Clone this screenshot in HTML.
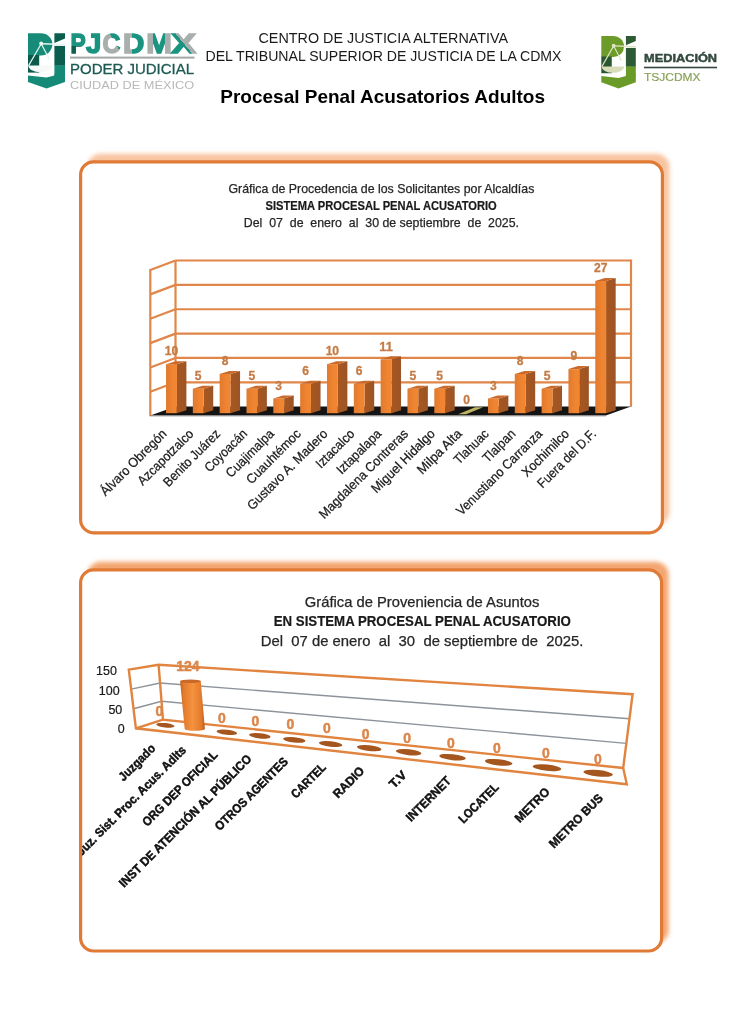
<!DOCTYPE html>
<html lang="es"><head><meta charset="utf-8"><title>Procesal Penal Acusatorios Adultos</title>
<style>
html,body{margin:0;padding:0;background:#fff;}
body{width:754px;height:1024px;overflow:hidden;}
svg{display:block;font-family:'Liberation Sans', Arial, sans-serif;}
</style></head><body>
<svg width="754" height="1024" viewBox="0 0 754 1024">
<defs>
<filter id="blur" x="-5%" y="-5%" width="110%" height="110%"><feGaussianBlur stdDeviation="2.2"/></filter>
<clipPath id="clip2"><rect x="82" y="572" width="578" height="377"/></clipPath>
</defs>
<g transform="">
<path d="M28 33.3 H41 A11.4 11.05 0 0 1 41 55.4 H28 Z" fill="#178b78"/>
<path d="M28 55 H39.2 V72.6 H28 Z" fill="#0b5a4a"/>
<path d="M54.4 33.3 H65 V38.6 L54.4 43 Z" fill="#0b5d4e"/>
<path d="M54.4 45.9 H65 V65.8 H54.4 Z" fill="#0b5d4e"/>
<path d="M54.4 65.6 H65 V76 H54.4 Z" fill="#148a77"/>
<path d="M28 75.4 L46.5 77.6 L54.4 75.6 L54.4 74 H65 V82 L46.5 88.6 L28 82 Z" fill="#148a77"/>
<path d="M28.3 65.4 H52.6 A12.15 6.8 0 0 1 28.3 65.4 Z" fill="#f6f9f8"/>
<path d="M41.2 43.7 L65 44.6" stroke="#e6f5f1" stroke-width="1.5" fill="none"/>
<path d="M41.2 43.7 L28.6 65.6 M41.2 43.7 L49.5 59.5" stroke="#e6f5f1" stroke-width="1.2" fill="none"/>
<circle cx="41.2" cy="43.6" r="2" fill="#e6f5f1"/>
</g>
<defs>
<linearGradient id="gP" x1="0" y1="0" x2="0" y2="1"><stop offset="0.58" stop-color="#1a9480"/><stop offset="0.58" stop-color="#0d5e4f"/></linearGradient>
<linearGradient id="gC" x1="0" y1="1" x2="1" y2="0"><stop offset="0.62" stop-color="#a9afad"/><stop offset="0.62" stop-color="#1a9480"/></linearGradient>
<linearGradient id="gD" x1="0" y1="0" x2="1" y2="0"><stop offset="0.42" stop-color="#a9afad"/><stop offset="0.42" stop-color="#1a9480"/></linearGradient>
<linearGradient id="gM" x1="0" y1="0" x2="1" y2="0"><stop offset="0.26" stop-color="#a9afad"/><stop offset="0.26" stop-color="#1a9480"/><stop offset="0.74" stop-color="#1a9480"/><stop offset="0.74" stop-color="#a9afad"/></linearGradient>
<linearGradient id="gX" x1="0" y1="1" x2="1" y2="0"><stop offset="0.5" stop-color="#1a9480"/><stop offset="0.5" stop-color="#a9afad"/></linearGradient>
</defs>
<text x="70.50" y="53.4" font-size="27.6" font-weight="bold" fill="url(#gP)" stroke="url(#gP)" stroke-width="1.5" textLength="15.20" lengthAdjust="spacingAndGlyphs">P</text>
<text x="86.00" y="53.4" font-size="27.6" font-weight="bold" fill="#1a9480" stroke="#1a9480" stroke-width="1.5" textLength="15.30" lengthAdjust="spacingAndGlyphs">J</text>
<text x="102.40" y="53.4" font-size="27.6" font-weight="bold" fill="url(#gC)" stroke="url(#gC)" stroke-width="1.5" textLength="17.80" lengthAdjust="spacingAndGlyphs">C</text>
<text x="123.10" y="53.4" font-size="27.6" font-weight="bold" fill="url(#gD)" stroke="url(#gD)" stroke-width="1.5" textLength="21.30" lengthAdjust="spacingAndGlyphs">D</text>
<text x="146.30" y="53.4" font-size="27.6" font-weight="bold" fill="url(#gM)" stroke="url(#gM)" stroke-width="1.5" textLength="25.60" lengthAdjust="spacingAndGlyphs">M</text>
<text x="171.30" y="53.4" font-size="27.6" font-weight="bold" fill="url(#gX)" stroke="url(#gX)" stroke-width="1.5" textLength="24.80" lengthAdjust="spacingAndGlyphs">X</text>
<rect x="70" y="56.6" width="124.5" height="2" fill="#a3a8a7"/>
<text x="70.00" y="74.30" font-size="14.7" fill="#1d5a53" font-weight="normal" text-anchor="start" textLength="124.00" lengthAdjust="spacingAndGlyphs" stroke="#1d5a53" stroke-width="0.3">PODER JUDICIAL</text>
<text x="70.00" y="89.00" font-size="11.6" fill="#b8b8b8" font-weight="normal" text-anchor="start" textLength="124.30" lengthAdjust="spacingAndGlyphs" >CIUDAD DE MÉXICO</text>
<text x="258.50" y="42.60" font-size="14.5" fill="#1a1a1a" font-weight="normal" text-anchor="start" textLength="249.60" lengthAdjust="spacingAndGlyphs" >CENTRO DE JUSTICIA ALTERNATIVA</text>
<text x="205.50" y="60.80" font-size="14.5" fill="#1a1a1a" font-weight="normal" text-anchor="start" textLength="356.00" lengthAdjust="spacingAndGlyphs" >DEL TRIBUNAL SUPERIOR DE JUSTICIA DE LA CDMX</text>
<text x="220.30" y="103.10" font-size="18.4" fill="#000" font-weight="bold" text-anchor="start" textLength="324.70" lengthAdjust="spacingAndGlyphs" >Procesal Penal Acusatorios Adultos</text>
<g transform="translate(601.3,36) scale(0.9324,0.9476) translate(-28,-33.3)">
<path d="M28 33.3 H41 A11.4 11.05 0 0 1 41 55.4 H28 Z" fill="#6c9b29"/>
<path d="M28 55 H39.2 V72.6 H28 Z" fill="#2a5632"/>
<path d="M54.4 33.3 H65 V38.6 L54.4 43 Z" fill="#2c5a34"/>
<path d="M54.4 45.9 H65 V65.8 H54.4 Z" fill="#2c5a34"/>
<path d="M54.4 65.6 H65 V76 H54.4 Z" fill="#6a9a27"/>
<path d="M28 75.4 L46.5 77.6 L54.4 75.6 L54.4 74 H65 V82 L46.5 88.6 L28 82 Z" fill="#6a9a27"/>
<path d="M28.3 65.4 H52.6 A12.15 6.8 0 0 1 28.3 65.4 Z" fill="#d9ddb9"/>
<path d="M41.2 43.7 L65 44.6" stroke="#dfe5c2" stroke-width="1.5" fill="none"/>
<path d="M41.2 43.7 L28.6 65.6 M41.2 43.7 L49.5 59.5" stroke="#dfe5c2" stroke-width="1.2" fill="none"/>
<circle cx="41.2" cy="43.6" r="2" fill="#dfe5c2"/>
</g>
<text x="644.00" y="62.30" font-size="10.8" fill="#33493f" font-weight="bold" text-anchor="start" textLength="73.10" lengthAdjust="spacingAndGlyphs" stroke="#33493f" stroke-width="0.45">MEDIACIÓN</text>
<rect x="644" y="66.7" width="73" height="1.6" fill="#34463f"/>
<text x="644.00" y="80.80" font-size="10.8" fill="#8ca25a" font-weight="normal" text-anchor="start" textLength="56.60" lengthAdjust="spacingAndGlyphs" stroke="#8ca25a" stroke-width="0.2">TSJCDMX</text>
<rect x="87.6" y="153.8" width="581.8" height="370.99999999999994" rx="13" fill="#f8c4a0" filter="url(#blur)"/>
<rect x="80.6" y="161.8" width="581.8" height="370.99999999999994" rx="13" fill="#fff" stroke="#e07b37" stroke-width="3.2"/>
<rect x="87.6" y="561.8" width="581.0" height="381.20000000000005" rx="13" fill="#f4a670" filter="url(#blur)"/>
<rect x="80.6" y="569.8" width="581.0" height="381.20000000000005" rx="13" fill="#fff" stroke="#e07b37" stroke-width="3.2"/>
<defs><linearGradient id="bfront" x1="0" x2="1" y1="0" y2="0"><stop offset="0" stop-color="#e07a2f"/><stop offset="0.6" stop-color="#ef8431"/><stop offset="1" stop-color="#f08632"/></linearGradient><linearGradient id="bside" x1="0" x2="1" y1="0" y2="0"><stop offset="0" stop-color="#a9561e"/><stop offset="1" stop-color="#9b5527"/></linearGradient></defs>
<text x="228.50" y="193.20" font-size="12.4" fill="#262626" font-weight="normal" text-anchor="start" textLength="305.80" lengthAdjust="spacingAndGlyphs" stroke="#262626" stroke-width="0.25">Gráfica de Procedencia de los Solicitantes por Alcaldías</text>
<text x="265.60" y="210.20" font-size="12.4" fill="#1a1a1a" font-weight="bold" text-anchor="start" textLength="231.20" lengthAdjust="spacingAndGlyphs" stroke="#1a1a1a" stroke-width="0.2">SISTEMA PROCESAL PENAL ACUSATORIO</text>
<text x="243.80" y="227.20" font-size="12.4" fill="#262626" font-weight="normal" text-anchor="start" textLength="275.20" lengthAdjust="spacingAndGlyphs" xml:space="preserve" stroke="#262626" stroke-width="0.25">Del  07  de  enero  al  30 de septiembre  de  2025.</text>
<line x1="175.5" y1="260.50" x2="631.0" y2="260.50" stroke="#e0864a" stroke-width="2.2"/>
<line x1="150.3" y1="270.00" x2="175.5" y2="260.50" stroke="#e0864a" stroke-width="2.2"/>
<line x1="175.5" y1="284.87" x2="631.0" y2="284.87" stroke="#e0864a" stroke-width="2.2"/>
<line x1="150.3" y1="294.37" x2="175.5" y2="284.87" stroke="#e0864a" stroke-width="2.2"/>
<line x1="175.5" y1="309.23" x2="631.0" y2="309.23" stroke="#e0864a" stroke-width="2.2"/>
<line x1="150.3" y1="318.73" x2="175.5" y2="309.23" stroke="#e0864a" stroke-width="2.2"/>
<line x1="175.5" y1="333.60" x2="631.0" y2="333.60" stroke="#e0864a" stroke-width="2.2"/>
<line x1="150.3" y1="343.10" x2="175.5" y2="333.60" stroke="#e0864a" stroke-width="2.2"/>
<line x1="175.5" y1="357.97" x2="631.0" y2="357.97" stroke="#e0864a" stroke-width="2.2"/>
<line x1="150.3" y1="367.47" x2="175.5" y2="357.97" stroke="#e0864a" stroke-width="2.2"/>
<line x1="175.5" y1="382.33" x2="631.0" y2="382.33" stroke="#e0864a" stroke-width="2.2"/>
<line x1="150.3" y1="391.83" x2="175.5" y2="382.33" stroke="#e0864a" stroke-width="2.2"/>
<line x1="175.5" y1="260.5" x2="175.5" y2="406.7" stroke="#e0864a" stroke-width="2.2"/>
<line x1="631.0" y1="259.5" x2="631.0" y2="406.7" stroke="#e0864a" stroke-width="2.2"/>
<line x1="150.3" y1="269.0" x2="150.3" y2="416.2" stroke="#e0864a" stroke-width="2.2"/>
<polygon points="175.5,406.4 631.0,406.4 605.8,415.4 150.3,415.4" fill="#141414"/>
<line x1="150.3" y1="416.4" x2="605.8" y2="416.4" stroke="#c8c8c8" stroke-width="0.8"/>
<polygon points="176.80,364.20 186.40,361.20 186.40,410.20 176.80,413.20" fill="url(#bside)"/>
<rect x="166.00" y="364.20" width="10.8" height="49.00" fill="url(#bfront)"/>
<polygon points="166.00,364.20 175.60,361.20 186.40,361.20 176.80,364.20" fill="#c96a2b"/>
<text x="171.40" y="355.40" font-size="12.4" fill="#c47c46" font-weight="bold" text-anchor="middle" textLength="13.49" lengthAdjust="spacingAndGlyphs" stroke="#c47c46" stroke-width="0.3">10</text>
<text transform="translate(167.50,434.60) rotate(-45)" font-size="13.2" fill="#1a1a1a" stroke="#1a1a1a" stroke-width="0.25" text-anchor="end" textLength="87.65" lengthAdjust="spacingAndGlyphs">Álvaro Obregón</text>
<polygon points="203.63,388.70 213.23,385.70 213.23,410.20 203.63,413.20" fill="url(#bside)"/>
<rect x="192.83" y="388.70" width="10.8" height="24.50" fill="url(#bfront)"/>
<polygon points="192.83,388.70 202.43,385.70 213.23,385.70 203.63,388.70" fill="#c96a2b"/>
<text x="198.23" y="379.90" font-size="12.4" fill="#c47c46" font-weight="bold" text-anchor="middle" textLength="6.74" lengthAdjust="spacingAndGlyphs" stroke="#c47c46" stroke-width="0.3">5</text>
<text transform="translate(194.33,434.60) rotate(-45)" font-size="13.2" fill="#1a1a1a" stroke="#1a1a1a" stroke-width="0.25" text-anchor="end" textLength="72.83" lengthAdjust="spacingAndGlyphs">Azcapotzalco</text>
<polygon points="230.46,374.00 240.06,371.00 240.06,410.20 230.46,413.20" fill="url(#bside)"/>
<rect x="219.66" y="374.00" width="10.8" height="39.20" fill="url(#bfront)"/>
<polygon points="219.66,374.00 229.26,371.00 240.06,371.00 230.46,374.00" fill="#c96a2b"/>
<text x="225.06" y="365.20" font-size="12.4" fill="#c47c46" font-weight="bold" text-anchor="middle" textLength="6.74" lengthAdjust="spacingAndGlyphs" stroke="#c47c46" stroke-width="0.3">8</text>
<text transform="translate(221.16,434.60) rotate(-45)" font-size="13.2" fill="#1a1a1a" stroke="#1a1a1a" stroke-width="0.25" text-anchor="end" textLength="74.65" lengthAdjust="spacingAndGlyphs">Benito Juárez</text>
<polygon points="257.29,388.70 266.89,385.70 266.89,410.20 257.29,413.20" fill="url(#bside)"/>
<rect x="246.49" y="388.70" width="10.8" height="24.50" fill="url(#bfront)"/>
<polygon points="246.49,388.70 256.09,385.70 266.89,385.70 257.29,388.70" fill="#c96a2b"/>
<text x="251.89" y="379.90" font-size="12.4" fill="#c47c46" font-weight="bold" text-anchor="middle" textLength="6.74" lengthAdjust="spacingAndGlyphs" stroke="#c47c46" stroke-width="0.3">5</text>
<text transform="translate(247.99,434.60) rotate(-45)" font-size="13.2" fill="#1a1a1a" stroke="#1a1a1a" stroke-width="0.25" text-anchor="end" textLength="54.06" lengthAdjust="spacingAndGlyphs">Coyoacán</text>
<polygon points="284.12,398.50 293.72,395.50 293.72,410.20 284.12,413.20" fill="url(#bside)"/>
<rect x="273.32" y="398.50" width="10.8" height="14.70" fill="url(#bfront)"/>
<polygon points="273.32,398.50 282.92,395.50 293.72,395.50 284.12,398.50" fill="#c96a2b"/>
<text x="278.72" y="389.70" font-size="12.4" fill="#c47c46" font-weight="bold" text-anchor="middle" textLength="6.74" lengthAdjust="spacingAndGlyphs" stroke="#c47c46" stroke-width="0.3">3</text>
<text transform="translate(274.82,434.60) rotate(-45)" font-size="13.2" fill="#1a1a1a" stroke="#1a1a1a" stroke-width="0.25" text-anchor="end" textLength="61.87" lengthAdjust="spacingAndGlyphs">Cuajimalpa</text>
<polygon points="310.95,383.80 320.55,380.80 320.55,410.20 310.95,413.20" fill="url(#bside)"/>
<rect x="300.15" y="383.80" width="10.8" height="29.40" fill="url(#bfront)"/>
<polygon points="300.15,383.80 309.75,380.80 320.55,380.80 310.95,383.80" fill="#c96a2b"/>
<text x="305.55" y="375.00" font-size="12.4" fill="#c47c46" font-weight="bold" text-anchor="middle" textLength="6.74" lengthAdjust="spacingAndGlyphs" stroke="#c47c46" stroke-width="0.3">6</text>
<text transform="translate(301.65,434.60) rotate(-45)" font-size="13.2" fill="#1a1a1a" stroke="#1a1a1a" stroke-width="0.25" text-anchor="end" textLength="70.82" lengthAdjust="spacingAndGlyphs">Cuauhtémoc</text>
<polygon points="337.78,364.20 347.38,361.20 347.38,410.20 337.78,413.20" fill="url(#bside)"/>
<rect x="326.98" y="364.20" width="10.8" height="49.00" fill="url(#bfront)"/>
<polygon points="326.98,364.20 336.58,361.20 347.38,361.20 337.78,364.20" fill="#c96a2b"/>
<text x="332.38" y="355.40" font-size="12.4" fill="#c47c46" font-weight="bold" text-anchor="middle" textLength="13.49" lengthAdjust="spacingAndGlyphs" stroke="#c47c46" stroke-width="0.3">10</text>
<text transform="translate(328.48,434.60) rotate(-45)" font-size="13.2" fill="#1a1a1a" stroke="#1a1a1a" stroke-width="0.25" text-anchor="end" textLength="107.63" lengthAdjust="spacingAndGlyphs">Gustavo A. Madero</text>
<polygon points="364.61,383.80 374.21,380.80 374.21,410.20 364.61,413.20" fill="url(#bside)"/>
<rect x="353.81" y="383.80" width="10.8" height="29.40" fill="url(#bfront)"/>
<polygon points="353.81,383.80 363.41,380.80 374.21,380.80 364.61,383.80" fill="#c96a2b"/>
<text x="359.21" y="375.00" font-size="12.4" fill="#c47c46" font-weight="bold" text-anchor="middle" textLength="6.74" lengthAdjust="spacingAndGlyphs" stroke="#c47c46" stroke-width="0.3">6</text>
<text transform="translate(355.31,434.60) rotate(-45)" font-size="13.2" fill="#1a1a1a" stroke="#1a1a1a" stroke-width="0.25" text-anchor="end" textLength="48.53" lengthAdjust="spacingAndGlyphs">Iztacalco</text>
<polygon points="391.44,359.30 401.04,356.30 401.04,410.20 391.44,413.20" fill="url(#bside)"/>
<rect x="380.64" y="359.30" width="10.8" height="53.90" fill="url(#bfront)"/>
<polygon points="380.64,359.30 390.24,356.30 401.04,356.30 391.44,359.30" fill="#c96a2b"/>
<text x="386.04" y="350.50" font-size="12.4" fill="#c47c46" font-weight="bold" text-anchor="middle" textLength="13.49" lengthAdjust="spacingAndGlyphs" stroke="#c47c46" stroke-width="0.3">11</text>
<text transform="translate(382.14,434.60) rotate(-45)" font-size="13.2" fill="#1a1a1a" stroke="#1a1a1a" stroke-width="0.25" text-anchor="end" textLength="57.22" lengthAdjust="spacingAndGlyphs">Iztapalapa</text>
<polygon points="418.27,388.70 427.87,385.70 427.87,410.20 418.27,413.20" fill="url(#bside)"/>
<rect x="407.47" y="388.70" width="10.8" height="24.50" fill="url(#bfront)"/>
<polygon points="407.47,388.70 417.07,385.70 427.87,385.70 418.27,388.70" fill="#c96a2b"/>
<text x="412.87" y="379.90" font-size="12.4" fill="#c47c46" font-weight="bold" text-anchor="middle" textLength="6.74" lengthAdjust="spacingAndGlyphs" stroke="#c47c46" stroke-width="0.3">5</text>
<text transform="translate(408.97,434.60) rotate(-45)" font-size="13.2" fill="#1a1a1a" stroke="#1a1a1a" stroke-width="0.25" text-anchor="end" textLength="119.90" lengthAdjust="spacingAndGlyphs">Magdalena Contreras</text>
<polygon points="445.10,388.70 454.70,385.70 454.70,410.20 445.10,413.20" fill="url(#bside)"/>
<rect x="434.30" y="388.70" width="10.8" height="24.50" fill="url(#bfront)"/>
<polygon points="434.30,388.70 443.90,385.70 454.70,385.70 445.10,388.70" fill="#c96a2b"/>
<text x="439.70" y="379.90" font-size="12.4" fill="#c47c46" font-weight="bold" text-anchor="middle" textLength="6.74" lengthAdjust="spacingAndGlyphs" stroke="#c47c46" stroke-width="0.3">5</text>
<text transform="translate(435.80,434.60) rotate(-45)" font-size="13.2" fill="#1a1a1a" stroke="#1a1a1a" stroke-width="0.25" text-anchor="end" textLength="83.79" lengthAdjust="spacingAndGlyphs">Miguel Hidalgo</text>
<polygon points="458.13,414.30 466.13,414.30 483.13,407.30 475.13,407.30" fill="#bdb662"/>
<text x="466.53" y="404.40" font-size="12.4" fill="#c47c46" font-weight="bold" text-anchor="middle" textLength="6.74" lengthAdjust="spacingAndGlyphs" stroke="#c47c46" stroke-width="0.3">0</text>
<text transform="translate(462.63,434.60) rotate(-45)" font-size="13.2" fill="#1a1a1a" stroke="#1a1a1a" stroke-width="0.25" text-anchor="end" textLength="57.06" lengthAdjust="spacingAndGlyphs">Milpa Alta</text>
<polygon points="498.76,398.50 508.36,395.50 508.36,410.20 498.76,413.20" fill="url(#bside)"/>
<rect x="487.96" y="398.50" width="10.8" height="14.70" fill="url(#bfront)"/>
<polygon points="487.96,398.50 497.56,395.50 508.36,395.50 498.76,398.50" fill="#c96a2b"/>
<text x="493.36" y="389.70" font-size="12.4" fill="#c47c46" font-weight="bold" text-anchor="middle" textLength="6.74" lengthAdjust="spacingAndGlyphs" stroke="#c47c46" stroke-width="0.3">3</text>
<text transform="translate(489.46,434.60) rotate(-45)" font-size="13.2" fill="#1a1a1a" stroke="#1a1a1a" stroke-width="0.25" text-anchor="end" textLength="43.11" lengthAdjust="spacingAndGlyphs">Tlahuac</text>
<polygon points="525.59,374.00 535.19,371.00 535.19,410.20 525.59,413.20" fill="url(#bside)"/>
<rect x="514.79" y="374.00" width="10.8" height="39.20" fill="url(#bfront)"/>
<polygon points="514.79,374.00 524.39,371.00 535.19,371.00 525.59,374.00" fill="#c96a2b"/>
<text x="520.19" y="365.20" font-size="12.4" fill="#c47c46" font-weight="bold" text-anchor="middle" textLength="6.74" lengthAdjust="spacingAndGlyphs" stroke="#c47c46" stroke-width="0.3">8</text>
<text transform="translate(516.29,434.60) rotate(-45)" font-size="13.2" fill="#1a1a1a" stroke="#1a1a1a" stroke-width="0.25" text-anchor="end" textLength="40.46" lengthAdjust="spacingAndGlyphs">Tlalpan</text>
<polygon points="552.42,388.70 562.02,385.70 562.02,410.20 552.42,413.20" fill="url(#bside)"/>
<rect x="541.62" y="388.70" width="10.8" height="24.50" fill="url(#bfront)"/>
<polygon points="541.62,388.70 551.22,385.70 562.02,385.70 552.42,388.70" fill="#c96a2b"/>
<text x="547.02" y="379.90" font-size="12.4" fill="#c47c46" font-weight="bold" text-anchor="middle" textLength="6.74" lengthAdjust="spacingAndGlyphs" stroke="#c47c46" stroke-width="0.3">5</text>
<text transform="translate(543.12,434.60) rotate(-45)" font-size="13.2" fill="#1a1a1a" stroke="#1a1a1a" stroke-width="0.25" text-anchor="end" textLength="115.29" lengthAdjust="spacingAndGlyphs">Venustiano Carranza</text>
<polygon points="579.25,369.10 588.85,366.10 588.85,410.20 579.25,413.20" fill="url(#bside)"/>
<rect x="568.45" y="369.10" width="10.8" height="44.10" fill="url(#bfront)"/>
<polygon points="568.45,369.10 578.05,366.10 588.85,366.10 579.25,369.10" fill="#c96a2b"/>
<text x="573.85" y="360.30" font-size="12.4" fill="#c47c46" font-weight="bold" text-anchor="middle" textLength="6.74" lengthAdjust="spacingAndGlyphs" stroke="#c47c46" stroke-width="0.3">9</text>
<text transform="translate(569.95,434.60) rotate(-45)" font-size="13.2" fill="#1a1a1a" stroke="#1a1a1a" stroke-width="0.25" text-anchor="end" textLength="60.69" lengthAdjust="spacingAndGlyphs">Xochimilco</text>
<polygon points="606.08,280.90 615.68,277.90 615.68,410.20 606.08,413.20" fill="url(#bside)"/>
<rect x="595.28" y="280.90" width="10.8" height="132.30" fill="url(#bfront)"/>
<polygon points="595.28,280.90 604.88,277.90 615.68,277.90 606.08,280.90" fill="#c96a2b"/>
<text x="600.68" y="272.10" font-size="12.4" fill="#c47c46" font-weight="bold" text-anchor="middle" textLength="13.49" lengthAdjust="spacingAndGlyphs" stroke="#c47c46" stroke-width="0.3">27</text>
<text transform="translate(596.78,434.60) rotate(-45)" font-size="13.2" fill="#1a1a1a" stroke="#1a1a1a" stroke-width="0.25" text-anchor="end" textLength="76.61" lengthAdjust="spacingAndGlyphs">Fuera del D.F.</text>
<g clip-path="url(#clip2)"><text x="304.80" y="606.90" font-size="14.6" fill="#262626" font-weight="normal" text-anchor="start" textLength="234.60" lengthAdjust="spacingAndGlyphs" stroke="#262626" stroke-width="0.25">Gráfica de Proveniencia de Asuntos</text>
<text x="273.70" y="626.10" font-size="14.6" fill="#1a1a1a" font-weight="bold" text-anchor="start" textLength="297.20" lengthAdjust="spacingAndGlyphs" stroke="#1a1a1a" stroke-width="0.2">EN SISTEMA PROCESAL PENAL ACUSATORIO</text>
<text x="260.80" y="646.40" font-size="14.6" fill="#262626" font-weight="normal" text-anchor="start" textLength="322.70" lengthAdjust="spacingAndGlyphs" xml:space="preserve" stroke="#262626" stroke-width="0.25">Del  07 de enero  al  30  de septiembre de  2025.</text>
<polyline points="133.53,708.73 161.53,701.33 626.33,743.40" fill="none" stroke="#8d939a" stroke-width="1.4"/>
<polyline points="131.17,689.17 160.07,683.07 629.47,718.80" fill="none" stroke="#8d939a" stroke-width="1.4"/>
<polygon points="128.80,669.60 158.60,664.80 632.60,694.20 623.20,768.00 626.80,784.30 135.90,728.30" fill="none" stroke="#e0843f" stroke-width="2.4"/>
<polyline points="158.60,664.80 163.00,719.60 623.20,768.00" fill="none" stroke="#e0843f" stroke-width="2.4"/>
<line x1="163.0" y1="719.6" x2="135.9" y2="728.3" stroke="#e0843f" stroke-width="2.4"/>
<text x="116.90" y="675.20" font-size="12.4" fill="#1a1a1a" font-weight="normal" text-anchor="end" textLength="20.84" lengthAdjust="spacingAndGlyphs" stroke="#1a1a1a" stroke-width="0.2">150</text>
<text x="119.60" y="694.80" font-size="12.4" fill="#1a1a1a" font-weight="normal" text-anchor="end" textLength="20.84" lengthAdjust="spacingAndGlyphs" stroke="#1a1a1a" stroke-width="0.2">100</text>
<text x="122.30" y="713.90" font-size="12.4" fill="#1a1a1a" font-weight="normal" text-anchor="end" textLength="13.89" lengthAdjust="spacingAndGlyphs" stroke="#1a1a1a" stroke-width="0.2">50</text>
<text x="124.70" y="733.00" font-size="12.4" fill="#1a1a1a" font-weight="normal" text-anchor="end" textLength="6.95" lengthAdjust="spacingAndGlyphs" stroke="#1a1a1a" stroke-width="0.2">0</text>
<ellipse cx="165.4" cy="725.3" rx="9.2" ry="2.2" fill="#a5561f" transform="rotate(6 165.4 725.3)"/>
<ellipse cx="226.8" cy="732.3" rx="10.3" ry="2.5" fill="#a5561f" transform="rotate(6 226.8 732.3)"/>
<ellipse cx="259.8" cy="735.8" rx="10.8" ry="2.6" fill="#a5561f" transform="rotate(6 259.8 735.8)"/>
<ellipse cx="294.3" cy="739.9" rx="11.3" ry="2.7" fill="#a5561f" transform="rotate(6 294.3 739.9)"/>
<ellipse cx="330.7" cy="744" rx="11.8" ry="2.8" fill="#a5561f" transform="rotate(6 330.7 744)"/>
<ellipse cx="369.2" cy="748.1" rx="12.3" ry="2.9" fill="#a5561f" transform="rotate(6 369.2 748.1)"/>
<ellipse cx="408.6" cy="752.2" rx="12.8" ry="3.0" fill="#a5561f" transform="rotate(6 408.6 752.2)"/>
<ellipse cx="452.5" cy="757.2" rx="13.3" ry="3.0" fill="#a5561f" transform="rotate(6 452.5 757.2)"/>
<ellipse cx="498.7" cy="762.3" rx="13.8" ry="3.1" fill="#a5561f" transform="rotate(6 498.7 762.3)"/>
<ellipse cx="547" cy="767.7" rx="14.3" ry="3.1" fill="#a5561f" transform="rotate(6 547 767.7)"/>
<ellipse cx="598.2" cy="773.3" rx="14.8" ry="3.2" fill="#a5561f" transform="rotate(6 598.2 773.3)"/>
<defs><linearGradient id="cyl" x1="0" x2="1" y1="0" y2="0"><stop offset="0" stop-color="#c4631f"/><stop offset="0.15" stop-color="#e47b2c"/><stop offset="0.5" stop-color="#f4923f"/><stop offset="0.85" stop-color="#e47b2c"/><stop offset="1" stop-color="#b85a1c"/></linearGradient></defs>
<path d="M180.1 681.3 L200.8 681.3 L204.9 729 A10.1 1.8 0 0 1 184.7 729 Z" fill="url(#cyl)"/>
<ellipse cx="190.45" cy="681.3" rx="10.35" ry="1.8" fill="#c8692a"/>
<text x="159.50" y="715.90" font-size="14.0" fill="#dc864a" font-weight="bold" text-anchor="middle" textLength="7.76" lengthAdjust="spacingAndGlyphs" stroke="#dc864a" stroke-width="0.5">0</text>
<text x="187.80" y="671.20" font-size="14.0" fill="#dc864a" font-weight="bold" text-anchor="middle" textLength="23.27" lengthAdjust="spacingAndGlyphs" stroke="#dc864a" stroke-width="0.5">124</text>
<text x="221.90" y="723.20" font-size="14.0" fill="#dc864a" font-weight="bold" text-anchor="middle" textLength="7.76" lengthAdjust="spacingAndGlyphs" stroke="#dc864a" stroke-width="0.5">0</text>
<text x="255.40" y="725.50" font-size="14.0" fill="#dc864a" font-weight="bold" text-anchor="middle" textLength="7.76" lengthAdjust="spacingAndGlyphs" stroke="#dc864a" stroke-width="0.5">0</text>
<text x="290.50" y="729.30" font-size="14.0" fill="#dc864a" font-weight="bold" text-anchor="middle" textLength="7.76" lengthAdjust="spacingAndGlyphs" stroke="#dc864a" stroke-width="0.5">0</text>
<text x="327.00" y="733.40" font-size="14.0" fill="#dc864a" font-weight="bold" text-anchor="middle" textLength="7.76" lengthAdjust="spacingAndGlyphs" stroke="#dc864a" stroke-width="0.5">0</text>
<text x="365.70" y="738.70" font-size="14.0" fill="#dc864a" font-weight="bold" text-anchor="middle" textLength="7.76" lengthAdjust="spacingAndGlyphs" stroke="#dc864a" stroke-width="0.5">0</text>
<text x="407.20" y="743.00" font-size="14.0" fill="#dc864a" font-weight="bold" text-anchor="middle" textLength="7.76" lengthAdjust="spacingAndGlyphs" stroke="#dc864a" stroke-width="0.5">0</text>
<text x="450.90" y="747.90" font-size="14.0" fill="#dc864a" font-weight="bold" text-anchor="middle" textLength="7.76" lengthAdjust="spacingAndGlyphs" stroke="#dc864a" stroke-width="0.5">0</text>
<text x="497.00" y="752.90" font-size="14.0" fill="#dc864a" font-weight="bold" text-anchor="middle" textLength="7.76" lengthAdjust="spacingAndGlyphs" stroke="#dc864a" stroke-width="0.5">0</text>
<text x="545.80" y="758.30" font-size="14.0" fill="#dc864a" font-weight="bold" text-anchor="middle" textLength="7.76" lengthAdjust="spacingAndGlyphs" stroke="#dc864a" stroke-width="0.5">0</text>
<text x="598.00" y="763.80" font-size="14.0" fill="#dc864a" font-weight="bold" text-anchor="middle" textLength="7.76" lengthAdjust="spacingAndGlyphs" stroke="#dc864a" stroke-width="0.5">0</text>
<text transform="translate(156.20,749.10) rotate(-45)" font-size="12.4" font-weight="bold" fill="#111" stroke="#111" stroke-width="0.45" text-anchor="end" textLength="46.31" lengthAdjust="spacingAndGlyphs">Juzgado</text>
<text transform="translate(186.90,751.00) rotate(-45)" font-size="12.4" font-weight="bold" fill="#111" stroke="#111" stroke-width="0.45" text-anchor="end" textLength="148.96" lengthAdjust="spacingAndGlyphs">Juz. Sist. Proc. Acus. Adlts</text>
<text transform="translate(218.50,755.70) rotate(-45)" font-size="12.4" font-weight="bold" fill="#111" stroke="#111" stroke-width="0.45" text-anchor="end" textLength="100.87" lengthAdjust="spacingAndGlyphs">ORG DEP OFICIAL</text>
<text transform="translate(252.40,759.70) rotate(-45)" font-size="12.4" font-weight="bold" fill="#111" stroke="#111" stroke-width="0.45" text-anchor="end" textLength="181.51" lengthAdjust="spacingAndGlyphs">INST DE ATENCIÓN AL PÚBLICO</text>
<text transform="translate(288.70,762.40) rotate(-45)" font-size="12.4" font-weight="bold" fill="#111" stroke="#111" stroke-width="0.45" text-anchor="end" textLength="97.37" lengthAdjust="spacingAndGlyphs">OTROS AGENTES</text>
<text transform="translate(326.70,768.20) rotate(-45)" font-size="12.4" font-weight="bold" fill="#111" stroke="#111" stroke-width="0.45" text-anchor="end" textLength="43.46" lengthAdjust="spacingAndGlyphs">CARTEL</text>
<text transform="translate(365.10,771.70) rotate(-45)" font-size="12.4" font-weight="bold" fill="#111" stroke="#111" stroke-width="0.45" text-anchor="end" textLength="38.39" lengthAdjust="spacingAndGlyphs">RADIO</text>
<text transform="translate(407.50,775.70) rotate(-45)" font-size="12.4" font-weight="bold" fill="#111" stroke="#111" stroke-width="0.45" text-anchor="end" textLength="18.94" lengthAdjust="spacingAndGlyphs">T.V</text>
<text transform="translate(451.80,781.60) rotate(-45)" font-size="12.4" font-weight="bold" fill="#111" stroke="#111" stroke-width="0.45" text-anchor="end" textLength="57.60" lengthAdjust="spacingAndGlyphs">INTERNET</text>
<text transform="translate(499.60,788.00) rotate(-45)" font-size="12.4" font-weight="bold" fill="#111" stroke="#111" stroke-width="0.45" text-anchor="end" textLength="50.96" lengthAdjust="spacingAndGlyphs">LOCATEL</text>
<text transform="translate(550.50,792.70) rotate(-45)" font-size="12.4" font-weight="bold" fill="#111" stroke="#111" stroke-width="0.45" text-anchor="end" textLength="43.34" lengthAdjust="spacingAndGlyphs">METRO</text>
<text transform="translate(603.70,799.10) rotate(-45)" font-size="12.4" font-weight="bold" fill="#111" stroke="#111" stroke-width="0.45" text-anchor="end" textLength="70.13" lengthAdjust="spacingAndGlyphs">METRO BUS</text></g>
</svg>
</body></html>
